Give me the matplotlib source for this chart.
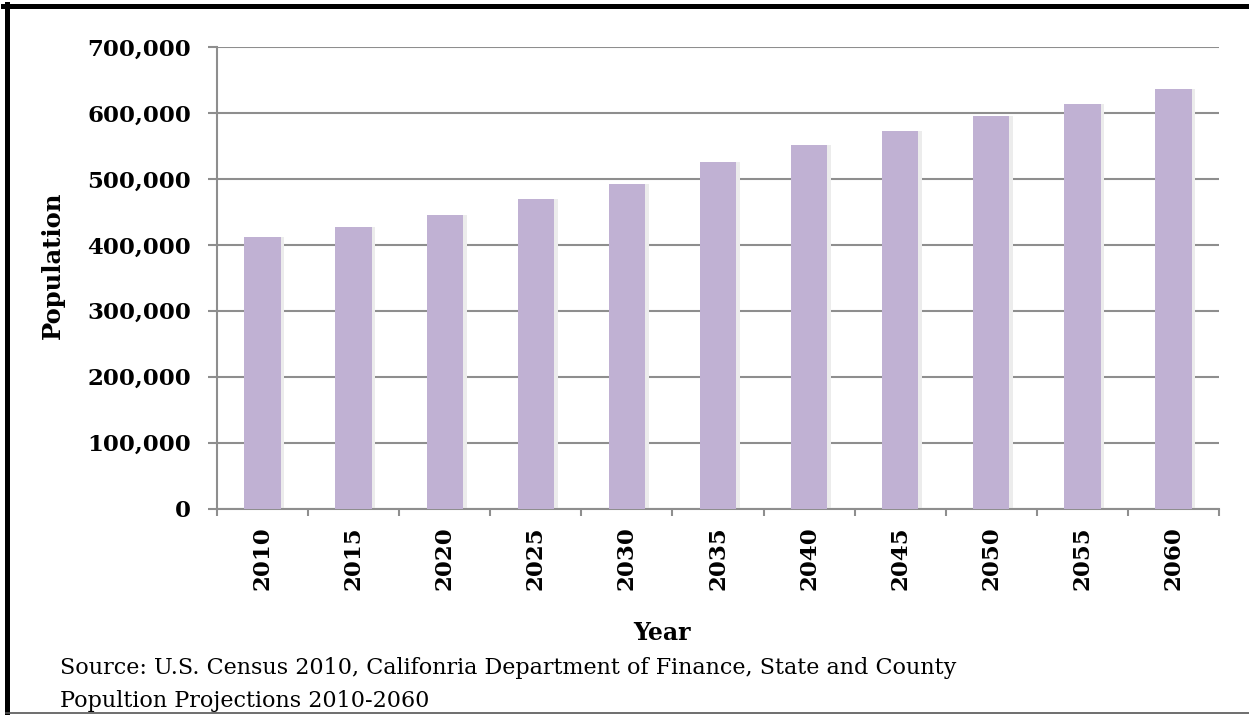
import matplotlib
matplotlib.use("Agg")
import matplotlib.pyplot as plt
from matplotlib.lines import Line2D
from matplotlib.ticker import FuncFormatter, FixedLocator
import numpy as np

years = ["2010", "2015", "2020", "2025", "2030", "2035",
         "2040", "2045", "2050", "2055", "2060"]
population = [412000, 427000, 445000, 469000, 492000, 525000,
              551000, 573000, 596000, 614000, 636000]
y_ticks = [0, 100000, 200000, 300000, 400000, 500000, 600000, 700000]

W, H = 1249, 715
fig = plt.figure(figsize=(W / 100, H / 100), dpi=100)
fig.patch.set_facecolor("white")

ax = fig.add_axes([217 / W, 1 - 508.5 / H, (1219 - 217) / W, (508.5 - 47) / H])

x = np.arange(len(years))
bar_w = 0.4
grid_c = "#8e8e8e"
label_font = dict(fontfamily="DejaVu Serif", fontweight="bold", fontsize=16.5)

# soft drop shadow behind each bar
ax.bar(x + 0.02, population, width=bar_w + 0.04, color="#ececec", zorder=2)
ax.bar(x, population, width=bar_w, color="#c0b1d3", zorder=3)

ax.set_xlim(-0.5, len(years) - 0.5)
ax.set_ylim(0, 700000)
ax.yaxis.set_major_locator(FixedLocator(y_ticks))
ax.yaxis.set_major_formatter(FuncFormatter(lambda v, p: f"{int(v):,}"))
ax.grid(axis="y", color=grid_c, linewidth=1.5, zorder=1)

for s in ("top", "right"):
    ax.spines[s].set_visible(False)
for s in ("left", "bottom"):
    ax.spines[s].set_color(grid_c)
    ax.spines[s].set_linewidth(1.5)

ax.set_xticks(x)
ax.set_xticklabels(years, rotation=90, **label_font)
ax.set_xticks(np.arange(-0.5, len(years)), minor=True)
ax.tick_params(axis="x", which="major", length=0, pad=13)
ax.tick_params(axis="x", which="minor", length=5, width=1.5, color=grid_c,
               direction="out")
ax.tick_params(axis="y", length=6.5, width=1.5, color=grid_c, pad=12)
for lbl in ax.get_yticklabels():
    lbl.set_fontfamily("DejaVu Serif")
    lbl.set_fontweight("bold")
    lbl.set_fontsize(16.5)

fig.text(53 / W, 1 - 265 / H, "Population", rotation=90, ha="center",
         va="center", fontfamily="DejaVu Serif", fontweight="bold",
         fontsize=17.5)
fig.text(662 / W, 1 - 633 / H, "Year", ha="center", va="center",
         fontfamily="DejaVu Serif", fontweight="bold", fontsize=17)

src = ("Source: U.S. Census 2010, Califonria Department of Finance, State and County\n"
       "Popultion Projections 2010-2060")
fig.text(60 / W, 1 - 707 / H, src, ha="left", va="baseline",
         fontfamily="DejaVu Serif", fontsize=16, linespacing=1.65)

# page frame: heavy black rule on top and left, thin grey rule at the bottom
fig.add_artist(Line2D([3 / W, 1], [1 - 6 / H, 1 - 6 / H], color="black",
                      linewidth=3.6, transform=fig.transFigure))
fig.add_artist(Line2D([6.5 / W, 6.5 / W], [0, 1 - 4 / H], color="black",
                      linewidth=3.6, transform=fig.transFigure))
fig.add_artist(Line2D([6 / W, 1], [1 - 712.5 / H, 1 - 712.5 / H],
                      color="#555555", linewidth=1.2, transform=fig.transFigure))

fig.savefig("out.png", dpi=100)
